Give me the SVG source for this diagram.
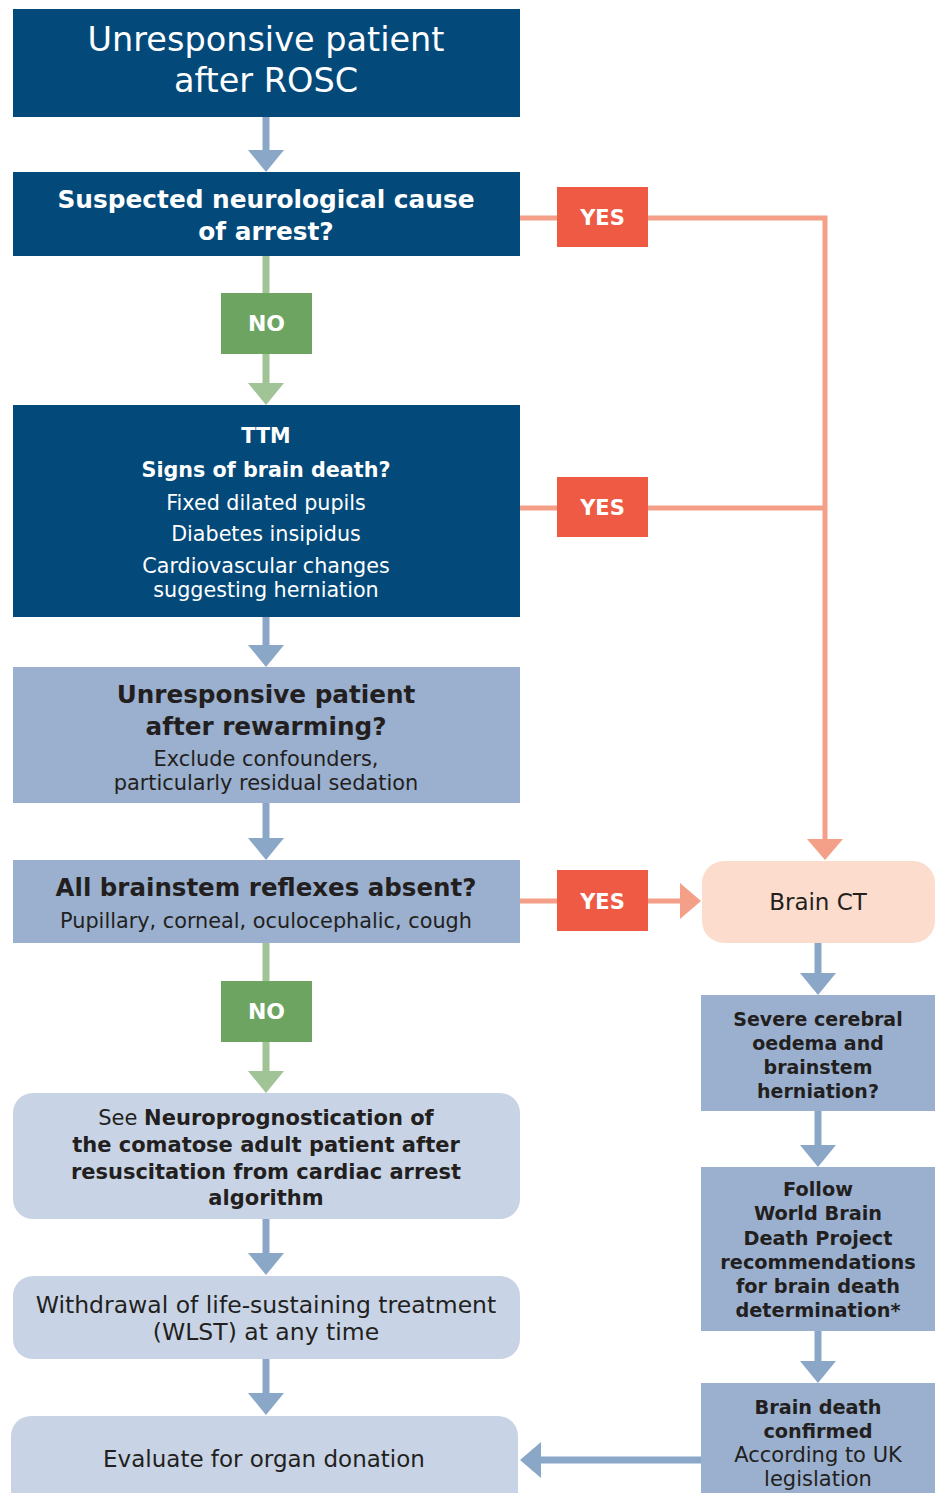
<svg xmlns="http://www.w3.org/2000/svg" width="937" height="1493" viewBox="0 0 937 1493">
<style>
text{font-family:"DejaVu Sans","Liberation Sans",Arial,sans-serif;text-anchor:middle}
.dk{fill:#034A7B}
.lb{fill:#9AB0CE}
.ll{fill:#C8D4E5}
.ct{fill:#FCDCCD}
.yes{fill:#EE5A43}
.no{fill:#6DA462}
.w{fill:#fff}
.t{fill:#231F20}
.b{font-weight:bold}
.lab{font-size:21px;font-weight:bold;fill:#fff}
.labn{font-size:22px;font-weight:bold;fill:#fff}
.bl{stroke:#8AA7C8;stroke-width:7;fill:none}
.bh{fill:#8AA7C8}
.gl{stroke:#A0C495;stroke-width:7;fill:none}
.gh{fill:#A0C495}
.sl{stroke:#F4A088;stroke-width:5;fill:none}
.sh{fill:#F4A088}
</style>
<g id="connectors">
<path class="bl" d="M266 117V152"/><polygon class="bh" points="248,150 284,150 266,172"/>
<path class="gl" d="M266 256V293M266 354V386"/><polygon class="gh" points="248,383 284,383 266,405"/>
<path class="sl" d="M520 218H825V842M520 508H825"/><polygon class="sh" points="807,839 843,839 825,860"/>
<path class="bl" d="M266 617V647"/><polygon class="bh" points="248,645 284,645 266,667"/>
<path class="bl" d="M266 803V840"/><polygon class="bh" points="248,838 284,838 266,860"/>
<path class="sl" d="M520 901H682"/><polygon class="sh" points="680,883 680,919 701,901"/>
<path class="gl" d="M266 943V981M266 1042V1074"/><polygon class="gh" points="248,1071 284,1071 266,1093"/>
<path class="bl" d="M266 1219V1255"/><polygon class="bh" points="248,1253 284,1253 266,1275"/>
<path class="bl" d="M266 1359V1395"/><polygon class="bh" points="248,1393 284,1393 266,1415"/>
<path class="bl" d="M818 943V975"/><polygon class="bh" points="800,973 836,973 818,995"/>
<path class="bl" d="M818 1111V1147"/><polygon class="bh" points="800,1145 836,1145 818,1167"/>
<path class="bl" d="M818 1331V1363"/><polygon class="bh" points="800,1361 836,1361 818,1383"/>
<path class="bl" d="M701 1460H538"/><polygon class="bh" points="541,1442 541,1478 520,1460"/>
</g>
<g id="n-rosc">
<rect class="dk" x="13" y="9" width="507" height="108"/>
<text class="w" x="266" y="51" font-size="33.5">Unresponsive patient</text>
<text class="w" x="266" y="92" font-size="33.5">after ROSC</text>
</g>
<g id="n-neuro-cause">
<rect class="dk" x="13" y="172" width="507" height="84"/>
<text class="w b" x="266" y="208" font-size="24.8">Suspected neurological cause</text>
<text class="w b" x="266" y="240" font-size="24.8">of arrest?</text>
</g>
<g id="l-yes1"><rect class="yes" x="557" y="187" width="91" height="60"/><text class="lab" x="602.5" y="225">YES</text></g>
<g id="l-no1"><rect class="no" x="221" y="293" width="91" height="61"/><text class="labn" x="266.5" y="331">NO</text></g>
<g id="n-ttm">
<rect class="dk" x="13" y="405" width="507" height="212"/>
<text class="w b" x="266" y="443" font-size="20.7">TTM</text>
<text class="w b" x="266" y="477" font-size="20.7">Signs of brain death?</text>
<text class="w" x="266" y="510" font-size="20.7">Fixed dilated pupils</text>
<text class="w" x="266" y="541" font-size="20.7">Diabetes insipidus</text>
<text class="w" x="266" y="573" font-size="20.7">Cardiovascular changes</text>
<text class="w" x="266" y="597" font-size="20.7">suggesting herniation</text>
</g>
<g id="l-yes2"><rect class="yes" x="557" y="477" width="91" height="60"/><text class="lab" x="602.5" y="515">YES</text></g>
<g id="n-rewarming">
<rect class="lb" x="13" y="667" width="507" height="136"/>
<text class="t b" x="266" y="703" font-size="24.7">Unresponsive patient</text>
<text class="t b" x="266" y="735" font-size="24.7">after rewarming?</text>
<text class="t" x="266" y="766" font-size="20.9">Exclude confounders,</text>
<text class="t" x="266" y="790" font-size="20.9">particularly residual sedation</text>
</g>
<g id="n-reflexes">
<rect class="lb" x="13" y="860" width="507" height="83"/>
<text class="t b" x="266" y="896" font-size="24.5">All brainstem reflexes absent?</text>
<text class="t" x="266" y="928" font-size="20.8">Pupillary, corneal, oculocephalic, cough</text>
</g>
<g id="l-yes3"><rect class="yes" x="557" y="870" width="91" height="61"/><text class="lab" x="602.5" y="909">YES</text></g>
<g id="n-brainct">
<rect class="ct" x="702" y="861" width="233" height="82" rx="22"/>
<text class="t" x="818" y="910" font-size="23">Brain CT</text>
</g>
<g id="l-no2"><rect class="no" x="221" y="981" width="91" height="61"/><text class="labn" x="266.5" y="1019">NO</text></g>
<g id="n-severe">
<rect class="lb" x="701" y="995" width="234" height="116"/>
<text class="t b" x="818" y="1026" font-size="19">Severe cerebral</text>
<text class="t b" x="818" y="1050" font-size="19">oedema and</text>
<text class="t b" x="818" y="1074" font-size="19">brainstem</text>
<text class="t b" x="818" y="1098" font-size="19">herniation?</text>
</g>
<g id="n-follow">
<rect class="lb" x="701" y="1167" width="234" height="164"/>
<text class="t b" x="818" y="1196" font-size="19.3">Follow</text>
<text class="t b" x="818" y="1220" font-size="19.3">World Brain</text>
<text class="t b" x="818" y="1245" font-size="19.3">Death Project</text>
<text class="t b" x="818" y="1269" font-size="19.3">recommendations</text>
<text class="t b" x="818" y="1293" font-size="19.3">for brain death</text>
<text class="t b" x="818" y="1317" font-size="19.3">determination*</text>
</g>
<g id="n-confirmed">
<rect class="lb" x="701" y="1383" width="234" height="115"/>
<text class="t b" x="818" y="1414" font-size="19.3">Brain death</text>
<text class="t b" x="818" y="1438" font-size="19.3">confirmed</text>
<text class="t" x="818" y="1462" font-size="21">According to UK</text>
<text class="t" x="818" y="1486" font-size="21">legislation</text>
</g>
<g id="n-neuroprog">
<rect class="ll" x="13" y="1093" width="507" height="126" rx="20"/>
<text class="t" x="266" y="1125" font-size="21">See <tspan class="b">Neuroprognostication of</tspan></text>
<text class="t b" x="266" y="1152" font-size="21">the comatose adult patient after</text>
<text class="t b" x="266" y="1179" font-size="21">resuscitation from cardiac arrest</text>
<text class="t b" x="266" y="1205" font-size="21">algorithm</text>
</g>
<g id="n-wlst">
<rect class="ll" x="13" y="1276" width="507" height="83" rx="20"/>
<text class="t" x="266" y="1313" font-size="23.5">Withdrawal of life-sustaining treatment</text>
<text class="t" x="266" y="1340" font-size="23.5">(WLST) at any time</text>
</g>
<g id="n-organ">
<rect class="ll" x="11" y="1416" width="507" height="100" rx="20"/>
<text class="t" x="264" y="1467" font-size="23">Evaluate for organ donation</text>
</g>
</svg>
